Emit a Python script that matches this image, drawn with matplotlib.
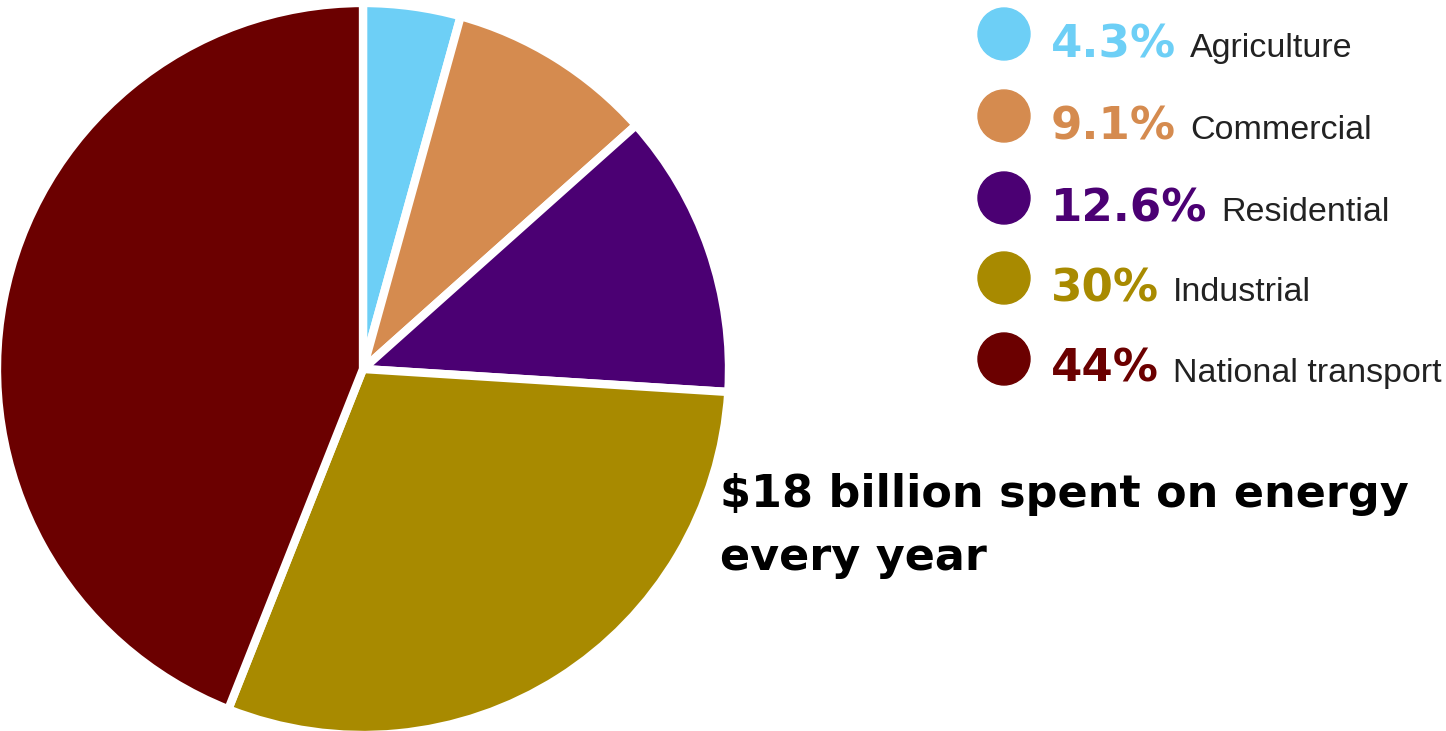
import matplotlib
matplotlib.use("Agg")
import matplotlib.pyplot as plt
from matplotlib.patches import Circle

# energy spend by sector (percent)
sectors = ["Agriculture", "Commercial", "Residential", "Industrial", "National transport"]
shares = [4.3, 9.1, 12.6, 30, 44]
share_labels = ["4.3%", "9.1%", "12.6%", "30%", "44%"]
colors = ["#6dcff6", "#d58b4f", "#4b0073", "#a88a00", "#6b0000"]

W, H = 1446, 731
fig = plt.figure(figsize=(W / 100, H / 100), dpi=100)
ax = fig.add_axes([0, 0, 1, 1])
ax.axis("off")

ax.pie(shares, colors=colors, startangle=90, counterclock=False,
       center=(363, H - 369), radius=366,
       wedgeprops=dict(edgecolor="white", linewidth=6))
ax.set_xlim(0, W)
ax.set_ylim(0, H)
ax.set_aspect("equal")

# legend on the right
row_y = [34, 116, 198, 278, 359]
for lab, name, c, y in zip(share_labels, sectors, colors, row_y):
    ax.add_patch(Circle((1004, H - y), 26, color=c, zorder=3))
    base = H - y - 23
    t = ax.text(1051, base, lab, color=c, fontsize=32.5, fontweight="bold",
                family="DejaVu Sans", va="baseline", ha="left")
    fig.canvas.draw()
    bb = t.get_window_extent()
    ax.text(bb.x1 + 14, base, name, color="#222222", fontsize=24.5,
            family="Liberation Sans", va="baseline", ha="left")

ax.text(720, H - 507, "$18 billion spent on energy", fontsize=32, fontweight="bold",
        family="DejaVu Sans", va="baseline", ha="left")
ax.text(720, H - 570, "every year", fontsize=32, fontweight="bold",
        family="DejaVu Sans", va="baseline", ha="left")

fig.savefig("out.png", dpi=100, facecolor="white")
